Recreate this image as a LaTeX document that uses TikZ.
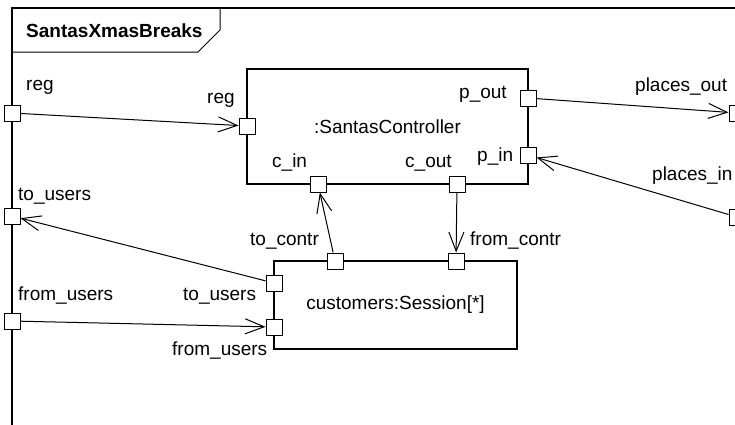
\documentclass[tikz,border=0pt]{standalone}
\usepackage{fontspec}
\setmainfont{Liberation Sans}
\usetikzlibrary{arrows.meta}
\begin{document}
\begin{tikzpicture}[x=1pt,y=-1pt,
  port/.style={draw, fill=white, minimum size=16pt, inner sep=0pt, line width=1pt},
  part/.style={draw, line width=1.8pt, inner sep=0pt, font=\fontsize{19}{22}\selectfont},
  lbl/.style={anchor=base west, inner sep=0pt, font=\fontsize{19}{22}\selectfont},
  conn/.style={line width=1pt, -{Straight Barb[length=19pt,width=15pt]}}]
\useasboundingbox (0,0) rectangle (735,424);
\clip (0,0) rectangle (735,424);
% frame
\draw[line width=1.3pt] (12,8) rectangle (745,440);
\draw[line width=1pt] (12,52) -- (198,52) -- (220,30) -- (220,8);
\node[lbl, font=\fontsize{19}{22}\selectfont\bfseries] (title) at (26,37) {SantasXmasBreaks};
% parts
\node[part, minimum width=281pt, minimum height=115pt] (ctrl) at (387.5,126.5) {:SantasController};
\node[part, minimum width=243pt, minimum height=88pt] (sess) at (395.5,305) {customers:Session[*]};
% ports
\node[port] (fReg) at (12,113) {};
\node[port] (fToU) at (12,216) {};
\node[port] (fFromU) at (12,321) {};
\node[port] (fPOut) at (737,113) {};
\node[port] (fPIn) at (737,217) {};
\node[port] (cReg) at (247,126) {};
\node[port] (cPOut) at (528,98) {};
\node[port] (cPIn) at (528,155) {};
\node[port] (cIn) at (318,184) {};
\node[port] (cOut) at (457,184) {};
\node[port] (sToC) at (335,261) {};
\node[port] (sFromC) at (456,261) {};
\node[port] (sToU) at (274,283) {};
\node[port] (sFromU) at (274,327) {};
% connectors
\draw[conn] (fReg) -- (cReg);
\draw[conn] (cPOut) -- (fPOut);
\draw[conn] (fPIn) -- (cPIn);
\draw[conn] (sToC) -- (cIn);
\draw[conn] (cOut) -- (sFromC);
\draw[conn] (sToU) -- (fToU);
\draw[conn] (fFromU) -- (sFromU);
% labels
\node[lbl] (l1) at (26,90.5) {reg};
\node[lbl] (l2) at (207,103.5) {reg};
\node[lbl] (l3) at (459,98) {p\_out};
\node[lbl] (l4) at (477,161) {p\_in};
\node[lbl] (l5) at (272,167) {c\_in};
\node[lbl] (l6) at (405,167) {c\_out};
\node[lbl] (l7) at (635,91) {places\_out};
\node[lbl] (l8) at (652,180.5) {places\_in};
\node[lbl] (l9) at (18,200) {to\_users};
\node[lbl] (l10) at (18,300.5) {from\_users};
\node[lbl] (l11) at (183,300) {to\_users};
\node[lbl] (l12) at (172,355.5) {from\_users};
\node[lbl] (l13) at (250,245) {to\_contr};
\node[lbl] (l14) at (470,245) {from\_contr};
\end{tikzpicture}
\end{document}
